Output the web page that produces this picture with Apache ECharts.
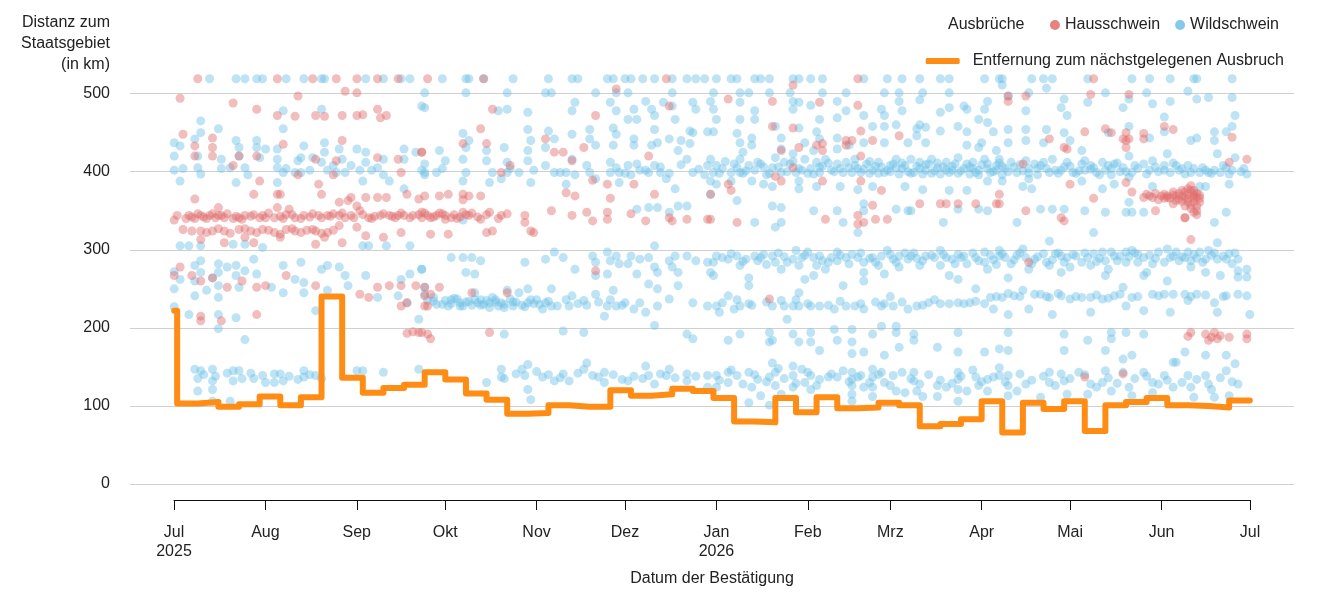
<!DOCTYPE html>
<html>
<head>
<meta charset="utf-8">
<script src="https://cdn.jsdelivr.net/npm/echarts@6/dist/echarts.min.js"></script>
<style>
  html, body { margin: 0; background: #fff; }
  #chart { width: 1333px; height: 600px; }
</style>
</head>
<body>
<div id="chart"></div>
<script>
// Tage ab 1. Juli 2025, Distanz in km
const FONT = '"Liberation Sans", Arial, sans-serif'
const DAY = 86400000
const start = new Date(2025, 6, 1).getTime()
const toTime = d => start + d * DAY
const parseDate = s => { const p = s.split('-').map(Number); return new Date(p[0], p[1] - 1, p[2]).getTime() }

// Achsenbeschriftung
const xTickDates = ['2025-07-01', '2025-08-01', '2025-09-01', '2025-10-01', '2025-11-01', '2025-12-01',
  '2026-01-01', '2026-02-01', '2026-03-01', '2026-04-01', '2026-05-01', '2026-06-01', '2026-07-01']
const xTickLabels = ['Jul\n2025', 'Aug', 'Sep', 'Okt', 'Nov', 'Dez', 'Jan\n2026', 'Feb', 'Mrz', 'Apr', 'Mai', 'Jun', 'Jul']
const yTicks = [0, 100, 200, 300, 400, 500]

// Entfernung zum nächstgelegenen Ausbruch (wöchentlich)
const stepDates = ['2025-07-01', '2025-07-02', '2025-07-09', '2025-07-16', '2025-07-23', '2025-07-30',
  '2025-08-06', '2025-08-13', '2025-08-20', '2025-08-27', '2025-09-03', '2025-09-10', '2025-09-17',
  '2025-09-24', '2025-10-01', '2025-10-08', '2025-10-15', '2025-10-22', '2025-10-29', '2025-11-05',
  '2025-11-12', '2025-11-19', '2025-11-26', '2025-12-03', '2025-12-10', '2025-12-17', '2025-12-24',
  '2025-12-31', '2026-01-07', '2026-01-14', '2026-01-21', '2026-01-28', '2026-02-04', '2026-02-11',
  '2026-02-18', '2026-02-25', '2026-03-04', '2026-03-11', '2026-03-18', '2026-03-25', '2026-04-01',
  '2026-04-08', '2026-04-15', '2026-04-22', '2026-04-29', '2026-05-06', '2026-05-13', '2026-05-20',
  '2026-05-27', '2026-06-03', '2026-06-10', '2026-06-17', '2026-06-24', '2026-07-01']
const stepKm = [222, 103, 105, 99, 102, 112,
  101, 111, 240, 136, 117, 123, 127,
  143, 134, 116, 108, 90, 91, 101,
  99, 99, 120, 113, 115, 122, 119,
  110, 80, 79, 110, 92, 111, 97,
  98, 104, 101, 74, 77, 83, 106,
  66, 104, 96, 106, 68, 101, 105,
  110, 101, 100, 98, 107, 107]

// Ausbrüche Wildschwein [Tag, km]
const wildPoints = [
  [12,519],[21,519],[24,519],[28,519],[30,519],[38,519],[44,519],[50,519],[51,519],[65,519],[71,519],[77,519],[80,519],
  [9,465],[9,450],[15,455],[37,478],[37,455],[50,480],[84,484],
  [0,437],[2,433],[0,420],[0,402],[3,404],[2,388],[7,442],[8,420],[8,405],[9,397],[16,404],[16,416],[19,405],[21,440],
  [22,431],[22,420],[21,386],[24,405],[25,396],[28,440],[28,431],[29,418],[31,429],[35,429],[35,416],[35,405],[37,399],
  [35,386],[38,404],[41,399],[42,414],[43,418],[44,433],[43,399],[46,402],[47,418],[50,412],[51,437],[51,425],[52,402],
  [54,408],[55,399],[56,429],[57,416],[58,399],[60,408],[62,429],[63,402],[64,388],[65,425],[65,412],[67,402],[69,405],
  [71,416],[71,396],[73,388],[78,429],[78,416],[78,378],[82,425],[85,399],[85,396],[84,402],
  [2,305],[5,305],[9,305],[20,307],[24,307],[30,303],[64,305],[66,305],[72,305],[80,305],
  [0,272],[0,250],[2,262],[7,280],[7,260],[7,241],[9,286],[9,271],[11,248],[13,264],[15,282],[15,271],[15,254],[15,239],
  [18,278],[21,280],[21,267],[22,252],[24,273],[27,288],[28,269],[33,252],[37,280],[37,245],[41,262],[43,284],[44,258],
  [44,245],[52,248],[50,275],[52,280],[56,278],[59,254],[58,267],[65,267],[69,239],[76,241],[77,262],[80,269],[79,232],
  [84,275],[85,252],
  [0,227],[5,217],[15,217],[21,213],[15,199],[48,222],[83,211],[24,185],
  [7,147],[9,145],[8,135],[13,147],[13,132],[13,121],[8,119],[20,145],[22,145],[20,132],[27,135],[30,139],[34,141],
  [36,141],[37,132],[34,130],[44,145],[44,137],[48,139],[62,145],[64,145],[71,143],[83,147],[19,106],[13,106],
  [10,140],[14,138],[18,142],[23,135],[26,142],[31,130],[39,138],[42,134],[46,140],[50,135],
  [91,519],[99,519],[100,519],[105,519],[115,519],[127,519],[135,519],[137,519],[147,519],[149,519],[153,519],[155,519],
  [159,519],[163,519],[169,519],[174,519],[177,519],[180,519],
  [85,501],[99,501],[113,501],[126,501],[128,501],[143,501],[150,501],[154,501],[169,501],
  [85,482],[113,480],[110,478],[120,476],[136,489],[135,478],[148,489],[150,478],[156,480],[160,490],[162,480],[163,472],
  [166,489],[169,484],[176,489],[177,480],[182,490],
  [120,454],[127,452],[135,448],[141,454],[149,456],[150,448],[154,467],[157,467],[163,454],[170,467],[175,452],[176,450],
  [181,451],[98,449],
  [100,440],[90,427],[106,427],[99,431],[112,431],[120,427],[121,440],[126,431],[129,442],[141,442],[143,434],[149,434],
  [156,442],[156,434],[162,434],[164,437],[168,442],[172,440],[171,427],[175,436],
  [85,410],[92,414],[91,404],[89,399],[98,416],[99,399],[98,388],[106,414],[108,399],[107,386],[113,412],[113,399],
  [111,391],[114,404],[117,399],[120,414],[122,402],[121,386],[126,408],[129,399],[131,399],[133,399],[133,384],[135,416],
  [136,396],[140,408],[141,399],[143,391],[148,412],[148,399],[151,399],[151,386],[154,408],[155,396],[158,402],[161,399],
  [163,408],[165,399],[167,391],[170,378],[174,416],[176,399],[180,396],[182,388],[181,408],
  [150,405],[153,398],[157,410],[160,402],[165,406],[168,398],[172,409],[178,403],
  [157,352],[161,354],[164,354],[171,356],[174,356],[168,348],[98,338],
  [94,290],[98,290],[101,290],[104,286],[99,271],[102,269],[119,284],[126,288],[129,297],[132,290],[136,275],[142,292],
  [143,284],[143,267],[147,297],[148,286],[150,292],[151,282],[154,282],[155,292],[158,288],[161,290],[163,278],[163,305],
  [164,271],[168,286],[169,278],[170,292],[171,271],[174,292],[177,286],[181,284],[182,271],[84,275],[147,269],[157,269],
  [85,243],[88,239],[92,235],[94,231],[96,237],[98,228],[102,245],[103,232],[106,235],[107,226],[108,239],[111,232],
  [112,226],[114,237],[115,228],[113,248],[117,245],[120,250],[120,232],[122,231],[125,224],[128,228],[128,250],[134,228],
  [135,241],[139,235],[143,243],[146,215],[147,228],[149,248],[150,228],[153,232],[156,224],[158,232],[161,256],[164,250],
  [164,228],[168,237],[171,254],[176,232],[181,228],[160,220],[163,203],
  [86,235],[89,230],[93,228],[95,238],[97,232],[100,234],[101,229],[104,236],[105,230],[109,233],[110,228],[116,233],
  [118,229],[123,236],[126,232],
  [88,234],[91,230],[94,236],[97,228],[99,233],[102,236],[104,229],[107,232],[109,236],[112,230],[115,233],[119,227],
  [121,236],[124,230],[127,234],[130,228],[133,236],[137,231],[140,229],[144,233],[148,236],[152,229],
  [112,192],[132,196],[139,194],[174,192],[176,186],
  [111,147],[111,137],[118,147],[119,139],[120,153],[125,137],[129,132],[132,141],[134,132],[139,147],[140,155],[142,139],
  [146,143],[146,130],[152,134],[154,132],[160,151],[161,139],[163,128],[167,139],[168,147],[174,141],[174,132],[181,139],
  [181,124],[106,130],[120,121],[121,108],
  [112,135],[116,141],[123,144],[127,140],[131,136],[137,142],[144,137],[149,140],[156,138],[159,135],[165,141],[170,136],
  [177,138],
  [184,519],[189,519],[191,519],[197,519],[199,519],[202,519],[210,519],[212,519],[216,519],[220,519],[234,519],[242,519],
  [247,519],[253,519],[260,519],[263,519],[275,519],[280,519],
  [183,501],[192,501],[195,501],[202,501],[209,501],[220,501],[228,501],[241,501],[246,501],[254,501],[263,501],
  [183,480],[184,467],[192,489],[192,467],[197,478],[197,467],[210,490],[210,480],[212,489],[216,485],[219,467],[225,490],
  [225,469],[228,478],[234,472],[240,480],[241,472],[246,490],[247,478],[252,455],[253,492],[255,457],[260,476],[263,482],
  [268,484],[269,480],[275,480],[276,490],[273,467],[276,463],
  [183,451],[191,449],[192,437],[193,425],[196,443],[196,434],[204,458],[206,443],[206,429],[210,423],[212,456],[214,437],
  [218,451],[219,442],[217,427],[225,443],[225,429],[229,434],[234,437],[237,458],[241,458],[241,437],[245,460],[249,437],
  [253,460],[252,446],[255,437],[260,452],[266,458],[269,451],[269,434],[274,437],[273,431],[278,451],[279,427],
  [182,416],[183,399],[184,408],[189,399],[192,416],[192,399],[195,408],[198,412],[203,405],[204,418],[206,399],[209,410],
  [211,399],[214,416],[216,404],[218,412],[219,399],[221,416],[223,402],[225,410],[227,399],[229,405],[231,416],[233,399],
  [235,410],[237,402],[239,412],[241,399],[243,408],[245,416],[246,397],[248,408],[250,416],[251,399],[253,412],[255,402],
  [257,416],[259,405],[260,397],[262,412],[264,402],[266,418],[268,404],[270,397],[271,412],[273,402],[275,416],[277,399],
  [279,408],[281,396],
  [186,404],[190,410],[194,401],[200,406],[202,398],[207,412],[212,404],[215,398],[220,407],[224,400],[228,412],[232,404],
  [236,398],[238,407],[242,402],[244,410],[247,404],[249,400],[252,407],[254,397],[256,410],[258,401],[261,406],[263,399],
  [265,410],[267,401],[270,406],[272,399],[274,409],[276,404],[278,400],[280,411],
  [185,398],[187,413],[191,405],[193,398],[197,402],[199,410],[201,396],[205,406],[208,400],[210,413],[213,402],[217,397],
  [219,406],[222,411],[226,404],[230,399],[231,408],[234,403],[236,413],[239,398],[240,406],[243,400],[245,405],[247,411],
  [250,398],[253,404],[255,409],[257,398],[259,411],[262,402],[264,407],[266,398],[269,410],[271,404],[273,396],[276,410],
  [279,402],
  [184,384],[189,388],[196,388],[200,384],[203,381],[212,388],[212,378],[218,381],[226,381],[232,377],[237,381],[248,381],
  [254,377],[263,376],[269,376],[276,388],[182,371],
  [191,363],[203,356],[206,354],[217,350],[225,350],[234,350],[234,359],[245,352],[249,350],[266,352],[273,352],[276,350],
  [197,335],[206,335],[204,329],[227,335],[232,322],[261,335],[250,350],
  [183,284],[183,267],[188,288],[191,292],[192,280],[197,292],[198,286],[203,292],[204,284],[206,275],[210,288],[211,299],
  [212,280],[217,290],[218,280],[220,286],[221,275],[225,297],[225,286],[228,290],[232,290],[234,284],[234,271],[238,284],
  [240,292],[242,299],[246,292],[246,278],[250,292],[253,280],[255,292],[260,299],[260,280],[262,290],[268,292],[269,282],
  [275,297],[275,284],[280,292],[276,275],
  [186,290],[194,288],[200,294],[207,291],[214,293],[223,290],[230,294],[236,289],[244,288],[248,296],[252,289],[257,293],
  [264,288],[266,294],[272,290],[278,287],
  [184,292],[189,295],[193,285],[199,290],[201,281],[205,296],[208,284],[213,290],[215,297],[219,292],[222,284],[226,293],
  [229,282],[233,296],[237,290],[239,280],[243,294],[245,284],[249,288],[251,296],[254,286],[258,290],[261,294],[265,282],
  [267,290],[271,296],[273,286],[277,293],[279,281],
  [195,264],[195,254],[214,262],[217,267],[227,254],[234,260],[241,269],[266,262],[263,267],[272,250],
  [184,228],[188,241],[190,224],[192,228],[195,231],[203,228],[206,235],[210,228],[212,245],[212,228],[216,228],[219,228],
  [224,224],[228,228],[233,231],[234,224],[240,228],[241,231],[244,228],[249,224],[252,228],[256,232],[260,231],[266,232],
  [268,231],[270,232],[275,231],[277,239],[278,224],
  [186,232],[191,236],[196,229],[201,233],[207,228],[211,236],[215,231],[222,229],[226,234],[231,228],[238,233],[243,240],
  [247,233],[254,229],[258,236],[263,231],[272,234],[279,240],
  [185,220],[192,192],[188,184],[202,194],[203,184],[210,192],[212,182],[216,194],[216,182],[219,171],[224,198],[225,184],
  [230,198],[230,182],[230,167],[234,169],[237,192],[240,202],[241,165],[245,194],[245,202],[246,175],[251,192],[251,184],
  [259,175],[266,194],[266,169],[275,169],[280,173],[202,182],[208,211],
  [188,143],[188,130],[191,139],[195,143],[196,124],[198,134],[199,113],[202,137],[203,155],[204,143],[204,126],[206,115],
  [210,151],[210,139],[210,124],[213,147],[214,130],[216,139],[216,121],[219,134],[223,141],[225,137],[230,143],[230,134],
  [230,126],[230,115],[230,106],[233,139],[234,124],[237,147],[237,137],[237,124],[237,112],[240,143],[241,130],[244,139],
  [245,119],[248,117],[251,143],[251,132],[252,119],[254,112],[259,126],[259,112],[262,124],[266,143],[266,134],[266,121],
  [266,106],[269,119],[272,137],[273,126],[276,134],[276,119],[280,139],[184,139],[184,124],[195,104],[202,101],
  [185,133],[189,146],[193,128],[197,140],[201,131],[205,148],[207,135],[211,129],[215,143],[218,126],[222,137],[227,145],
  [229,131],[232,137],[236,130],[239,140],[243,126],[247,143],[250,135],[253,128],[256,140],[260,133],[264,129],[267,138],
  [271,146],[274,131],[278,137],
  [281,519],[291,519],[295,519],[298,519],[310,519],[325,519],[331,519],[338,519],[346,519],[347,519],[359,519],
  [281,511],[290,501],[296,507],[302,493],[301,482],[310,489],[316,501],[322,482],[324,493],[332,487],[330,501],[338,490],
  [344,503],[347,493],[351,495],[359,495],[289,478],[283,497],
  [283,454],[289,454],[296,454],[303,472],[302,450],[283,437],[289,440],[304,440],[295,437],[317,450],[324,458],[331,443],
  [336,451],[336,470],[347,443],[345,440],[353,451],[353,440],[359,458],[360,472],[357,451],
  [280,416],[282,404],[284,412],[286,399],[289,414],[290,404],[293,396],[294,408],[297,399],[298,416],[301,402],[303,412],
  [305,399],[308,427],[309,414],[309,402],[311,408],[313,399],[315,412],[316,402],[318,396],[319,410],[322,405],[324,420],
  [325,399],[329,410],[331,402],[332,414],[336,408],[337,423],[338,399],[340,408],[343,397],[345,399],[348,399],[351,399],
  [353,402],[355,399],[359,402],[364,397],[354,423],[360,418],
  [285,406],[288,401],[292,410],[296,404],[300,398],[304,407],[307,401],[312,405],[317,408],[321,400],[327,404],[334,400],
  [341,402],[346,404],[350,402],[357,405],[362,400],
  [281,407],[283,400],[287,409],[290,398],[293,404],[295,412],[299,402],[302,406],[306,398],[308,410],[311,403],[314,396],
  [318,404],[320,411],[323,400],[326,408],[330,397],[333,406],[336,402],[339,411],[342,404],[344,408],[349,405],[352,398],
  [356,408],[358,397],[363,404],
  [281,388],[290,391],[288,381],[291,378],[308,388],[315,378],[319,384],[324,393],[332,381],[350,381],[358,384],[324,361],
  [294,352],[298,352],[302,352],[309,350],[316,348],[323,348],[325,348],[329,348],[357,348],[286,335],[353,335],[312,322],
  [297,311],[354,309],[348,381],
  [280,299],[282,290],[284,282],[288,301],[289,290],[290,275],[295,295],[296,284],[297,280],[301,292],[303,290],[301,271],
  [304,278],[310,290],[312,295],[311,280],[315,297],[316,286],[317,275],[319,292],[316,267],[323,297],[323,284],[325,299],
  [327,284],[329,290],[332,282],[330,271],[337,301],[338,290],[340,297],[344,297],[345,286],[345,278],[348,297],[349,284],
  [350,271],[351,299],[354,288],[355,267],[358,295],[359,282],[361,273],[361,265],[364,275],[364,265],[361,288],[329,267],
  [337,260],[283,264],[308,284],
  [286,293],[292,288],[299,295],[306,292],[314,289],[321,292],[327,294],[333,289],[342,291],[347,289],[352,293],[357,288],
  [281,295],[285,287],[287,296],[291,282],[293,291],[298,287],[300,296],[302,284],[305,294],[309,296],[313,285],[318,297],
  [320,286],[324,291],[326,296],[331,293],[334,297],[336,284],[339,292],[341,286],[343,290],[346,294],[350,288],[353,296],
  [356,292],[360,296],
  [281,239],[285,241],[288,248],[294,243],[297,239],[301,241],[304,237],[308,239],[311,239],[315,237],[319,241],[322,252],
  [325,239],[332,243],[336,243],[343,243],[347,243],[344,235],[353,232],[357,241],[364,241],[290,224],[298,217],[311,220],
  [323,228],[329,222],[338,220],[354,220],[365,217],[283,217],
  [283,244],[287,240],[292,243],[296,240],[300,244],[306,240],[313,242],[317,238],[321,243],[327,240],[334,241],[339,243],
  [345,240],[350,242],[356,240],[361,243],
  [283,194],[302,192],[318,194],[323,194],[329,192],[310,184],[283,171],[302,171],[316,171],[325,165],[322,160],[340,156],
  [343,169],[350,165],[357,165],[360,154],[318,186],
  [283,139],[283,126],[283,113],[286,119],[289,128],[297,143],[297,130],[301,141],[302,132],[303,115],[307,143],[310,115],
  [311,128],[315,130],[316,145],[318,119],[322,143],[324,124],[325,113],[329,143],[332,130],[332,117],[336,139],[339,124],
  [339,156],[344,139],[345,124],[346,111],[350,139],[352,121],[353,111],[357,145],[361,128],[358,113],[294,111],[280,149],
  [282,131],[287,141],[291,133],[295,138],[299,126],[304,135],[309,140],[313,124],[317,136],[320,129],[326,135],[330,138],
  [334,128],[337,133],[342,130],[347,134],[351,128],[355,136],[359,131]
]

// Ausbrüche Hausschwein [Tag, km]
const farmPoints = [
  [8,519],[35,519],[47,519],[55,519],[62,519],[69,519],[76,519],
  [2,494],[20,488],[28,480],[42,497],[58,503],[62,501],
  [35,472],[41,471],[48,472],[51,471],[57,472],[62,472],[64,473],[69,480],[70,469],[72,472],
  [3,448],[13,443],[7,433],[13,431],[37,435],[57,440],[69,418],[84,425],
  [7,420],[13,420],[20,408],[22,420],[28,420],[48,416],[55,414],[76,416],[77,399],[42,396],[54,396],
  [29,388],[27,371],[35,371],[49,384],[50,371],[60,367],[59,363],[65,367],[69,367],[72,367],[79,371],[83,365],[7,365],
  [36,371],[56,361],
  [5,344],[7,340],[9,344],[11,340],[12,344],[15,344],[15,354],[16,344],[20,340],[22,341],[24,344],[30,344],[34,341],
  [37,340],[35,354],[39,352],[41,341],[44,344],[49,344],[52,344],[56,344],[60,344],[63,350],[66,341],[70,344],[73,344],
  [76,344],[78,344],[84,341],[85,347],[62,356],[0,338],
  [6,342],[8,346],[10,342],[13,346],[17,341],[26,343],[31,341],[38,345],[46,342],[54,346],[58,341],[68,343],[75,341],
  [81,344],
  [1,344],[4,340],[14,341],[18,346],[21,343],[23,339],[27,345],[29,341],[32,347],[36,343],[40,345],[43,340],[47,346],
  [50,341],[53,343],[57,347],[61,341],[64,345],[67,340],[71,346],[74,343],[77,347],[80,341],[83,345],
  [6,324],[9,324],[13,324],[17,324],[22,326],[26,324],[30,326],[34,322],[38,326],[41,324],[45,325],[48,324],[52,322],
  [56,331],[62,329],[65,318],[71,316],[77,322],
  [3,326],[11,322],[15,327],[19,321],[24,327],[28,322],[32,325],[36,320],[40,327],[43,322],[47,326],[50,321],[54,325],
  [9,313],[17,309],[24,316],[27,309],[36,316],[51,316],[48,307],[57,309],
  [2,278],[0,267],[6,267],[9,260],[13,264],[18,252],[23,260],[28,252],[31,254],[38,267],[48,254],[63,243],[66,239],
  [69,252],[73,254],[77,254],[77,228],[79,232],[82,254],[85,241],
  [9,215],[9,209],[16,209],[28,217],
  [79,193],[83,194],[81,195],
  [86,519],[105,519],[168,484],[167,519],[108,480],[104,455],[106,436],[98,436],[84,425],[114,408],[111,399],[126,442],
  [129,425],[132,425],[135,414],[139,431],[143,472],[142,389],[147,384],[148,366],[156,384],[161,420],[163,371],[133,373],
  [136,369],[150,506],
  [85,369],[90,369],[93,371],[98,371],[100,369],[104,369],[98,364],
  [84,348],[86,344],[89,344],[91,346],[92,339],[94,341],[98,348],[100,344],[104,339],[107,348],[111,344],[113,346],
  [119,344],[119,335],[128,350],[135,344],[140,348],[142,337],[147,339],[155,346],[160,337],[168,341],[169,337],[174,339],
  [181,339],[147,348],
  [87,341],[90,347],[95,345],[97,342],[101,347],[88,342],[92,344],[96,340],[99,345],[103,342],[106,345],[110,340],
  [87,320],[93,320],[106,322],[108,324],[121,324],[122,322],
  [143,273],
  [85,252],[85,228],[87,243],[90,252],[101,245],[86,228],[113,245],
  [84,194],[86,192],[87,186],[107,194],
  [188,493],[203,490],[219,489],[232,485],[232,519],[210,511],[203,458],[210,456],[233,452],[246,446],[228,440],[230,440],
  [228,434],[237,440],[220,436],[218,434],[212,431],[206,427],[220,427],[233,420],[210,405],[204,394],[206,388],[220,388],
  [233,388],[240,376],[188,384],[189,376],[182,371],[237,357],[253,359],[260,359],[262,359],[266,359],[272,359],[279,359],
  [280,371],[221,339],[232,344],[232,333],[234,335],[238,339],[242,339],[191,335],[182,339],[202,237],
  [283,497],[289,497],[311,499],[324,499],[312,519],[283,490],
  [316,455],[329,449],[336,458],[339,454],[359,444],[318,450],[323,450],[323,440],[322,442],[324,442],[323,431],[309,451],
  [297,442],[302,431],[303,429],[329,442],[364,416],[358,412],[288,410],
  [304,384],[323,386],[325,374],[312,366],[280,359],[289,350],[301,341],[302,337],[333,350],[343,341],
  [329,367],[332,367],[336,371],[337,367],[339,374],[340,369],[339,359],[342,376],[344,365],[345,376],[346,367],[345,382],
  [346,376],[346,361],[347,367],[347,356],[346,348],[343,356],[343,367],[337,369],[335,369],[348,361],[343,341],[347,345],
  [341,372],[344,371],[346,372],[348,370],[345,358],[342,362],[338,366],[331,369],[334,364],
  [330,371],[333,372],[336,366],[339,370],[341,365],[343,374],[344,361],[346,369],[347,372],[348,366],[344,378],[342,369],
  [340,363],[345,353],[347,350],
  [345,313],
  [344,189],[345,194],[350,192],[352,188],[353,194],[354,186],[358,188],[364,192],[364,186],[355,190],[351,184],
  [322,141],[309,137],[290,284]
]

const chart = echarts.init(document.getElementById('chart'), null, { renderer: 'canvas' })

const labelByTime = {}
xTickDates.forEach((s, i) => { labelByTime[parseDate(s)] = xTickLabels[i] })

chart.setOption({
  animation: false,
  textStyle: { fontFamily: FONT },
  grid: [
    { left: 130, right: 39, top: 78, bottom: 116 },
    { left: 174, right: 83, top: 490, bottom: 100 }
  ],
  xAxis: [
    { type: 'value', gridIndex: 0, min: toTime(-15), max: toTime(380), show: false },
    {
      type: 'value', gridIndex: 1,
      min: parseDate(xTickDates[0]), max: parseDate(xTickDates[xTickDates.length - 1]),
      axisLine: { show: true, onZero: false, lineStyle: { color: '#111', width: 1 } },
      axisTick: { show: true, length: 10, lineStyle: { color: '#111' }, customValues: xTickDates.map(parseDate) },
      axisLabel: {
        customValues: xTickDates.map(parseDate),
        formatter: v => labelByTime[v] || '',
        fontSize: 16, color: '#222', margin: 23, lineHeight: 19, fontFamily: FONT
      },
      splitLine: { show: false },
      name: 'Datum der Bestätigung',
      nameLocation: 'middle',
      nameGap: 71,
      nameTextStyle: { fontSize: 16, color: '#222', fontFamily: FONT }
    }
  ],
  yAxis: [
    {
      type: 'value', gridIndex: 0, min: 0, max: 520, interval: 100,
      axisLine: { show: false },
      axisTick: { show: false },
      axisLabel: {
        fontSize: 16, color: '#222', margin: 20, fontFamily: FONT,
        formatter: v => (yTicks.indexOf(v) >= 0 ? String(v) : ''),
        showMaxLabel: false
      },
      splitLine: { show: true, showMaxLine: false, lineStyle: { color: '#d0d0d0', width: 1 } }
    },
    { type: 'value', gridIndex: 1, min: 0, max: 1, show: false }
  ],
  title: {
    text: 'Ausbrüche',
    left: 943, top: 12,
    textStyle: { fontSize: 16, fontWeight: 'normal', color: '#222', fontFamily: FONT }
  },
  graphic: [{
    type: 'text',
    x: 110, y: 12,
    style: {
      text: 'Distanz zum\nStaatsgebiet\n(in km)',
      align: 'right', verticalAlign: 'top',
      fontSize: 16, lineHeight: 21, fill: '#222', fontFamily: FONT
    }
  }],
  legend: [
    {
      data: ['Hausschwein', 'Wildschwein'],
      right: 49, top: 12,
      icon: 'circle', itemWidth: 10, itemHeight: 10, itemGap: 15,
      itemStyle: { opacity: 0.85 },
      textStyle: { fontSize: 16, color: '#222', fontFamily: FONT }
    },
    {
      data: [{ name: 'Entfernung zum nächstgelegenen Ausbruch', icon: 'roundRect' }],
      right: 44, top: 48,
      itemWidth: 34, itemHeight: 6, itemGap: 10,
      textStyle: { fontSize: 16, color: '#222', fontFamily: FONT, padding: [0, 0, 0, 8] }
    }
  ],
  series: [
    {
      name: 'Wildschwein',
      type: 'scatter',
      xAxisIndex: 0, yAxisIndex: 0,
      symbolSize: 9,
      itemStyle: { color: '#6ec0e6', opacity: 0.45 },
      silent: true,
      data: wildPoints.map(p => [toTime(p[0]), p[1]])
    },
    {
      name: 'Hausschwein',
      type: 'scatter',
      xAxisIndex: 0, yAxisIndex: 0,
      symbolSize: 9,
      itemStyle: { color: '#e06c6c', opacity: 0.45 },
      silent: true,
      data: farmPoints.map(p => [toTime(p[0]), p[1]])
    },
    {
      name: 'Entfernung zum nächstgelegenen Ausbruch',
      type: 'line',
      xAxisIndex: 0, yAxisIndex: 0,
      step: 'end',
      symbol: 'none',
      z: 5,
      lineStyle: { color: '#ff8c14', width: 6, cap: 'round', join: 'round' },
      itemStyle: { color: '#ff8c14' },
      data: stepDates.map((s, i) => [parseDate(s), stepKm[i]])
    }
  ]
})
</script>
</body>
</html>
